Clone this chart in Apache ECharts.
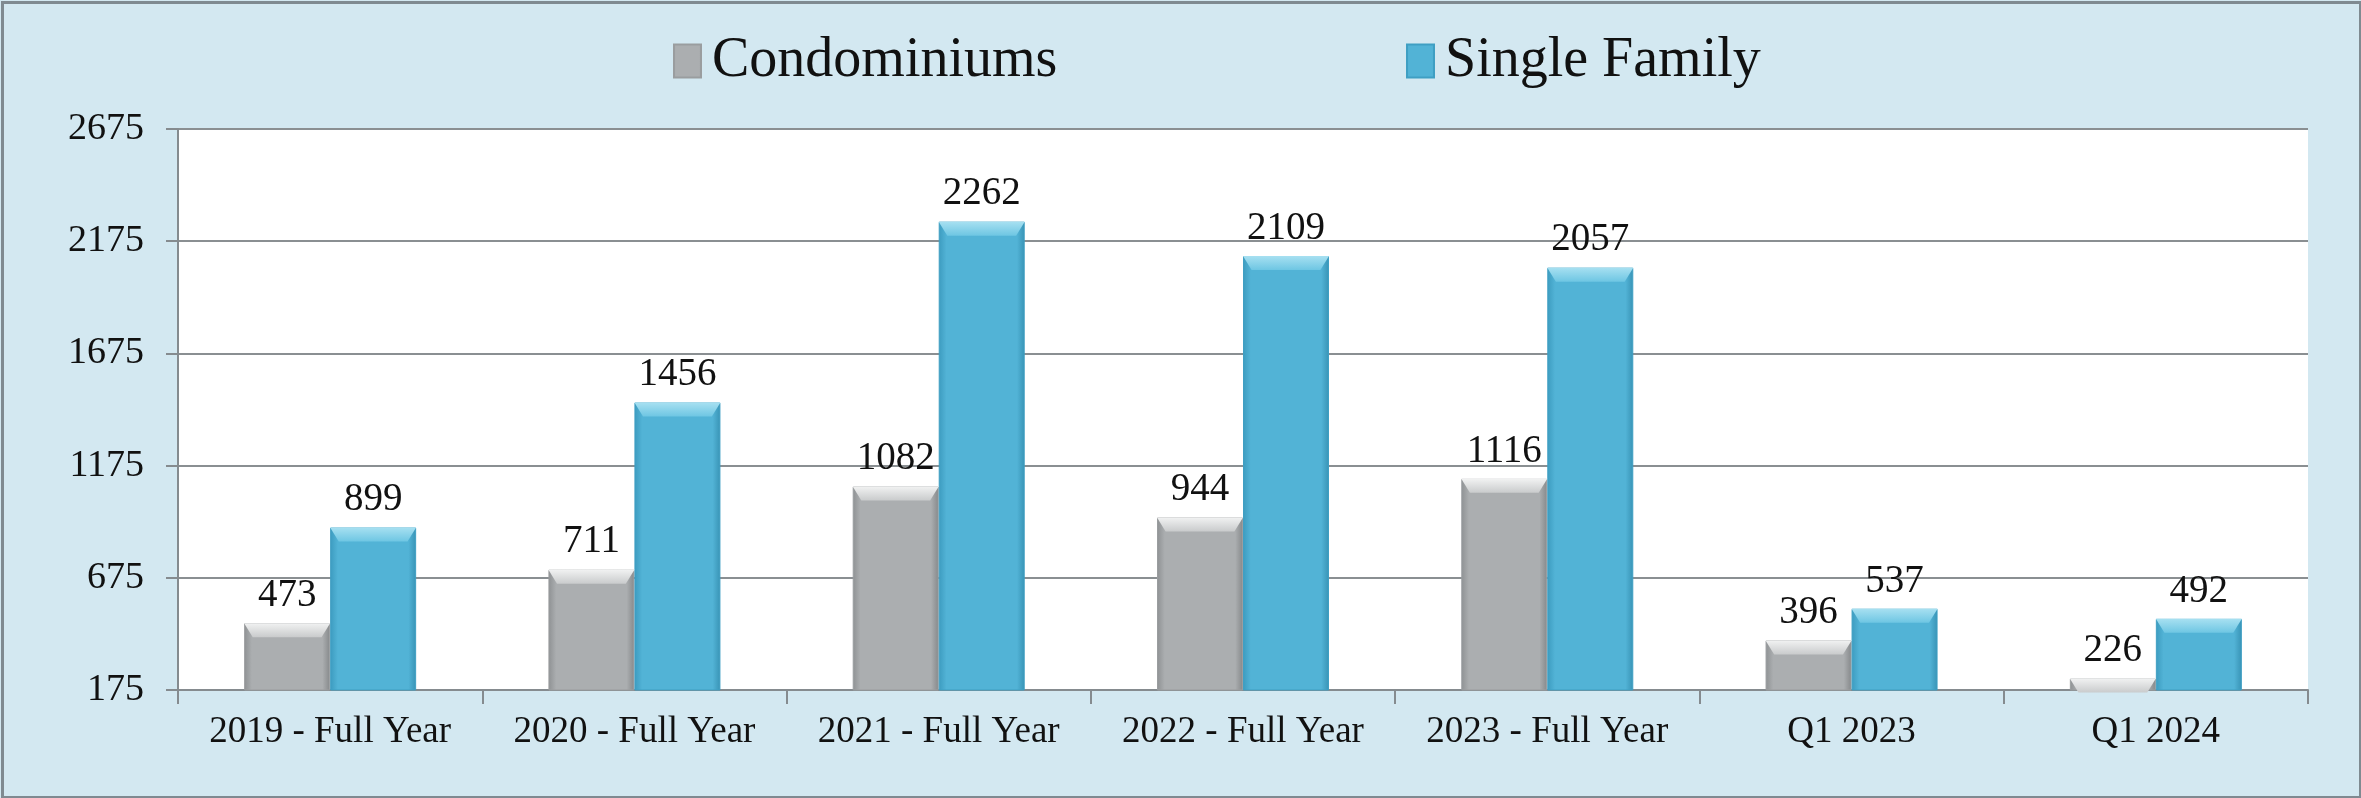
<!DOCTYPE html>
<html>
<head>
<meta charset="utf-8">
<script src="https://cdn.jsdelivr.net/npm/echarts@6/dist/echarts.min.js"></script>
<style>
  html, body { margin: 0; padding: 0; background: #d3e8f1; }
  #chart { width: 2361px; height: 798px; }
</style>
</head>
<body>
<div id="chart"></div>
<script>
const categories = ['2019 - Full Year', '2020 - Full Year', '2021 - Full Year', '2022 - Full Year', '2023 - Full Year', 'Q1 2023', 'Q1 2024'];
const condominiums = [473, 711, 1082, 944, 1116, 396, 226];
const singleFamily = [899, 1456, 2262, 2109, 2057, 537, 492];
const seriesNames = ['Condominiums', 'Single Family'];
const yMin = 175, yMax = 2675, yStep = 500;

const FONT = "'Liberation Serif', 'Times New Roman', serif";

function barGrad(edgeL, base, edgeR) {
  return new echarts.graphic.LinearGradient(0, 0, 1, 0, [
    { offset: 0, color: edgeL },
    { offset: 0.09, color: base },
    { offset: 0.91, color: base },
    { offset: 1, color: edgeR }
  ]);
}
function capGrad(top, bottom) {
  return new echarts.graphic.LinearGradient(0, 0, 0, 1, [
    { offset: 0, color: top },
    { offset: 1, color: bottom }
  ]);
}
const grayFill = barGrad('#8e9193', '#abaeb0', '#85888a');
const blueFill = barGrad('#3c9bbf', '#52b3d6', '#3893b5');

const chart = echarts.init(document.getElementById('chart'), null, { renderer: 'canvas' });

const labelStyle = {
  show: true,
  position: 'top',
  distance: 8,
  color: '#111',
  fontFamily: FONT,
  fontSize: 39
};
const capPath = 'path://M0,0 L20,0 L18,2 L2,2 Z';

chart.setOption({
  backgroundColor: '#d3e8f1',
  animation: false,
  graphic: [{
    type: 'rect',
    left: 0, top: 0,
    shape: { x: 1.5, y: 1.5, width: 2358, height: 795 },
    style: { fill: 'none', stroke: '#7f8a91', lineWidth: 3 },
    silent: true,
    z: 100
  }],
  legend: [
    {
      data: [seriesNames[0]],
      left: 668, top: 28,
      itemWidth: 27, itemHeight: 33,
      icon: 'rect',
      textStyle: { fontFamily: FONT, fontSize: 56, color: '#111', padding: [0, 0, 0, 6] }
    },
    {
      data: [seriesNames[1]],
      left: 1401, top: 28,
      itemWidth: 27, itemHeight: 33,
      icon: 'rect',
      textStyle: { fontFamily: FONT, fontSize: 56, color: '#111', padding: [0, 0, 0, 6] }
    }
  ],
  grid: {
    left: 178, right: 53, top: 129, bottom: 108,
    show: true, backgroundColor: '#ffffff', borderWidth: 0,
    containLabel: false
  },
  xAxis: {
    type: 'category',
    data: categories,
    boundaryGap: true,
    axisLine: { show: true, lineStyle: { color: '#858b8f', width: 2 } },
    axisTick: { show: true, alignWithLabel: false, interval: 0, length: 14, lineStyle: { color: '#858b8f', width: 2 } },
    axisLabel: { interval: 0, color: '#111', fontFamily: FONT, fontSize: 37, margin: 24 }
  },
  yAxis: {
    type: 'value',
    min: yMin, max: yMax, interval: yStep,
    axisLine: { show: true, lineStyle: { color: '#858b8f', width: 2 } },
    axisTick: { show: true, length: 12, lineStyle: { color: '#858b8f', width: 2 } },
    axisLabel: { color: '#111', fontFamily: FONT, fontSize: 38, margin: 34, formatter: v => String(v) },
    splitLine: { show: true, lineStyle: { color: '#8a8f92', width: 2 } }
  },
  series: [
    {
      name: seriesNames[0],
      type: 'bar',
      data: condominiums,
      barWidth: 86,
      barGap: '0%',
      itemStyle: { color: grayFill, borderColor: '#9a9d9f', borderWidth: 1 },
      label: labelStyle
    },
    {
      name: seriesNames[1],
      type: 'bar',
      data: singleFamily,
      barWidth: 86,
      barGap: '0%',
      itemStyle: { color: blueFill, borderColor: '#3f9fc3', borderWidth: 1 },
      label: labelStyle
    },
    {
      name: 'condoCap',
      type: 'pictorialBar',
      data: condominiums,
      barWidth: 86,
      barGap: '0%',
      symbol: capPath,
      symbolSize: [86, 14],
      symbolPosition: 'end',
      symbolOffset: [0, 0],
      symbolKeepAspect: false,
      itemStyle: { color: capGrad('#f1f2f2', '#c9cbcc') },
      z: 3,
      silent: true
    },
    {
      name: 'singleCap',
      type: 'pictorialBar',
      data: singleFamily,
      barWidth: 86,
      barGap: '0%',
      symbol: capPath,
      symbolSize: [86, 14],
      symbolPosition: 'end',
      symbolOffset: [0, 0],
      symbolKeepAspect: false,
      itemStyle: { color: capGrad('#a7e0f1', '#6ec6e3') },
      z: 3,
      silent: true
    }
  ]
});
</script>
</body>
</html>
